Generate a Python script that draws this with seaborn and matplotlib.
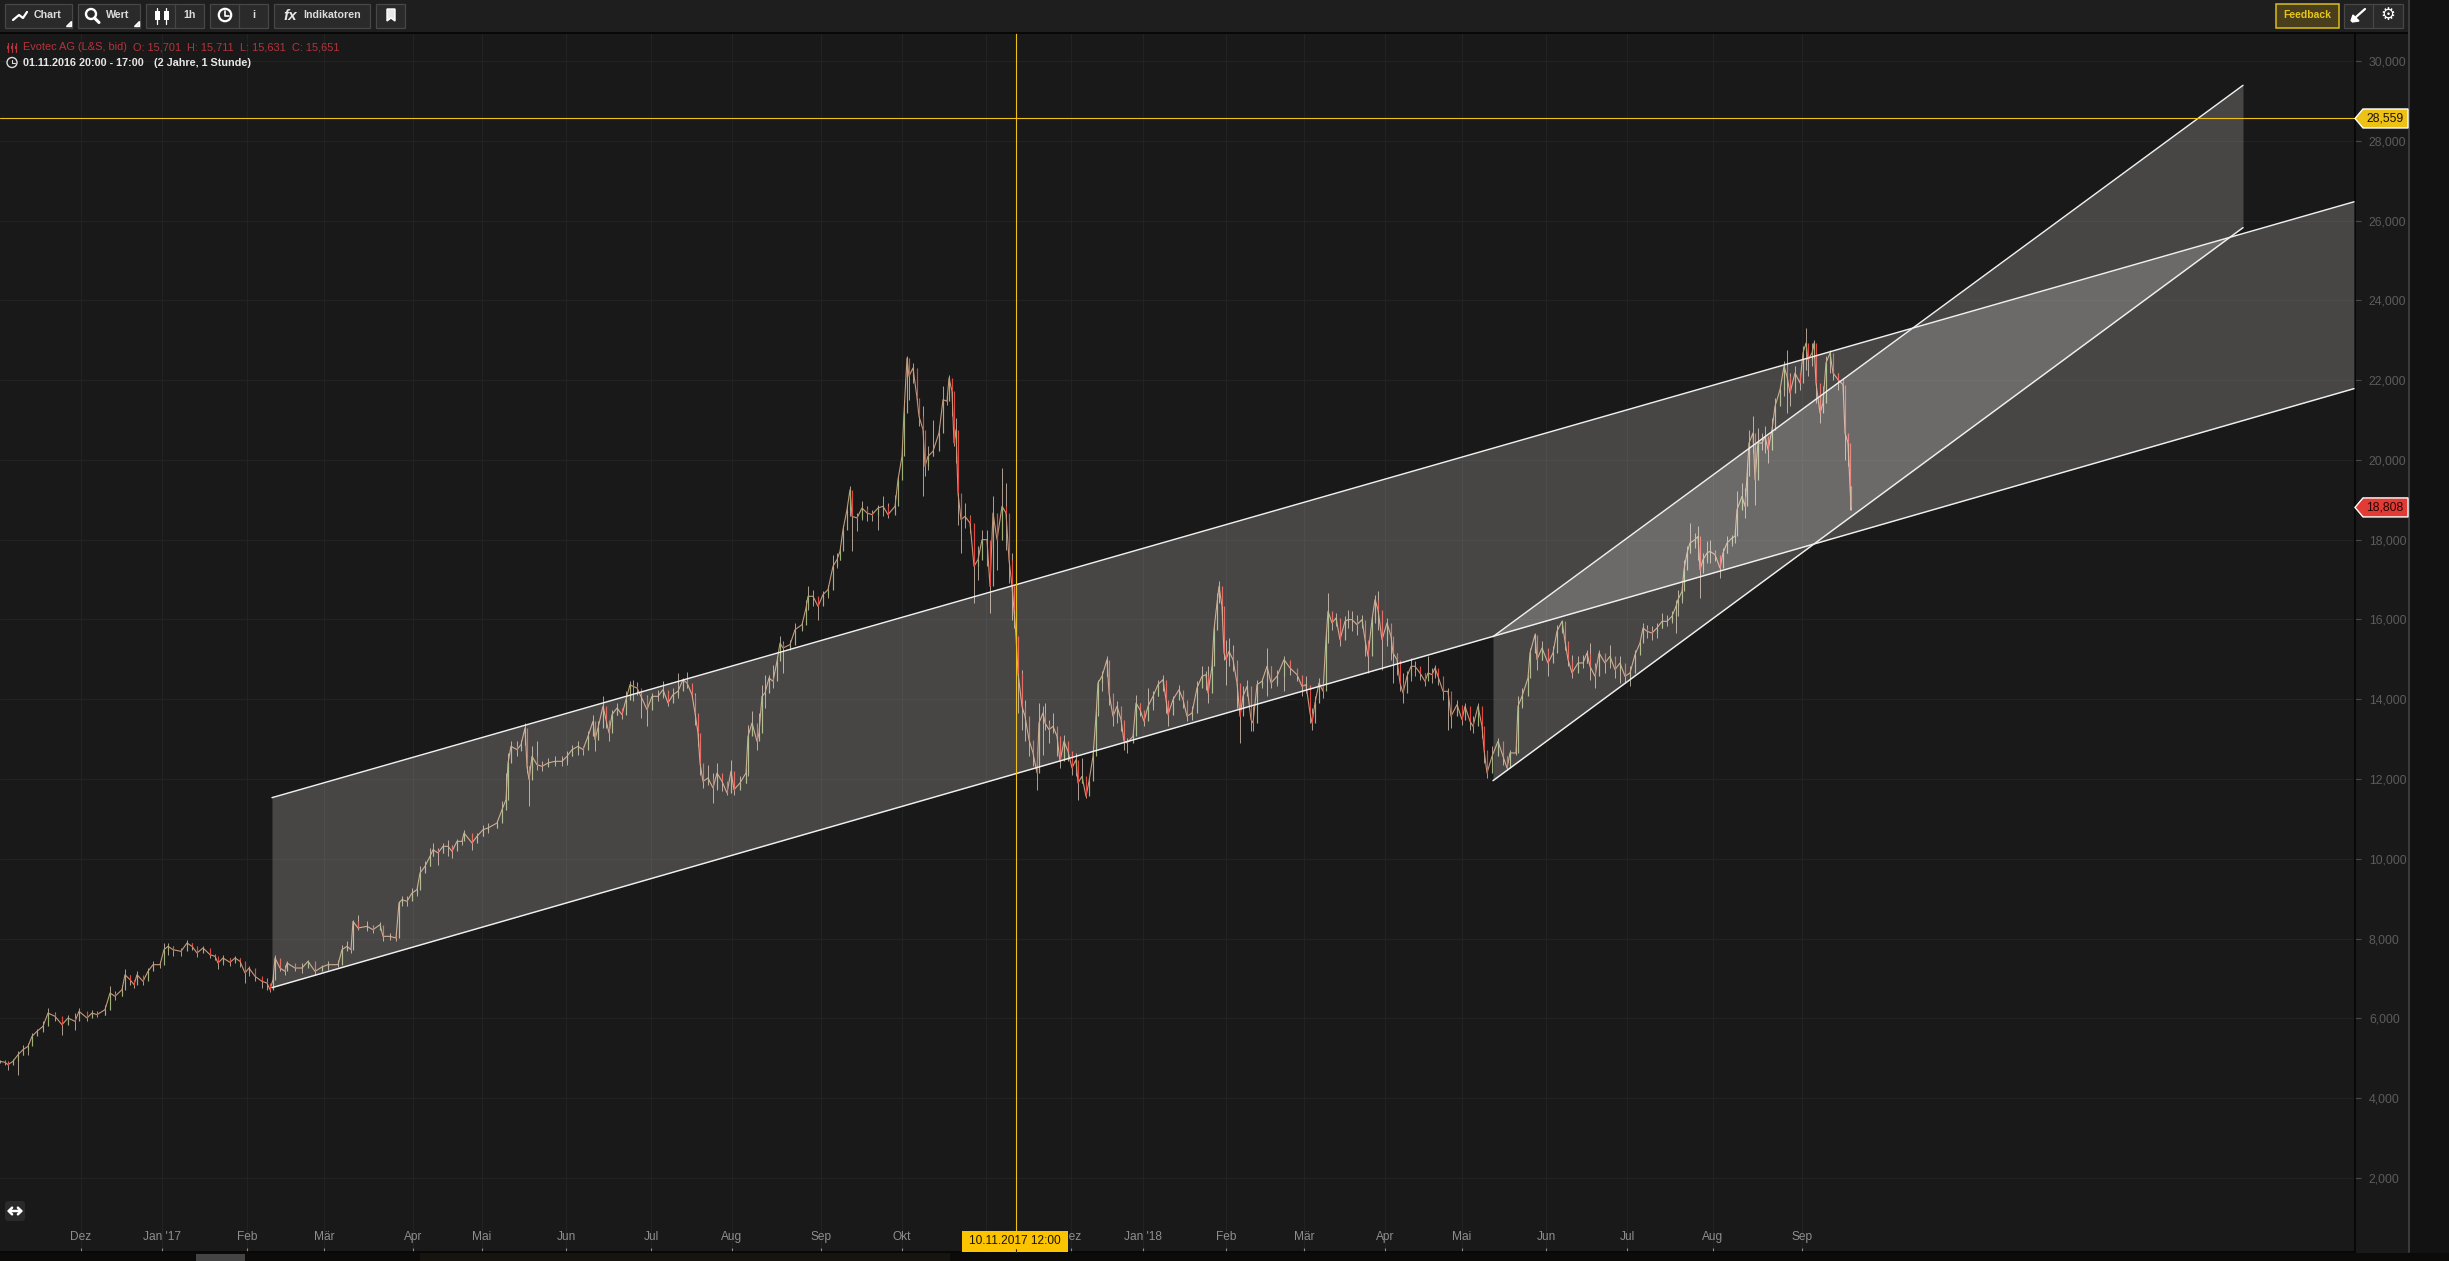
import numpy as np
import matplotlib.pyplot as plt
from matplotlib.patches import Rectangle, Polygon, Circle, FancyBboxPatch
from matplotlib.ticker import FuncFormatter
import seaborn as sns

# price bars (x = bar slot on the intraday axis)
bar_x = [0,5,8,13,18,23,28,32,37,43,48,55,62,68,75,79,87,92,97,105,110,115,122,125,130,134,137,143,148,153,160,164,168,173,181,187,192,197,203,210,215,218,223,230,235,240,245,249,255,262,267,270,273,275,280,285,287,295,302,308,315,322,328,338,342,347,351,353,358,367,373,380,383,390,396,399,
    402,407,412,417,420,425,430,433,438,443,448,452,457,462,464,472,477,483,488,497,502,506,508,511,517,521,525,527,529,532,537,542,548,555,562,567,
    572,578,583,588,593,595,598,603,606,609,612,617,622,626,630,633,637,641,647,652,658,663,668,673,678,683,687,692,695,698,700,703,708,713,717,722,727,731,734,740,746,748,752,757,759,762,765,769,773,777,780,783,790,795,802,806,
    808,813,818,823,828,833,837,840,843,847,850,852,857,862,867,872,878,883,888,895,898,902,904,907,909,913,917,919,923,925,928,933,939,943,947,949,952,954,956,958,961,965,970,974,978,982,987,990,993,997,1002,1006,1009,1012,
    1014,1016,1018,1022,1025,1029,1033,1037,1039,1043,1045,1049,1053,1057,1060,1064,1068,1072,1076,1078,1082,1086,1089,1093,1096,1098,1102,1107,1109,1113,1117,1121,1124,1127,1133,1136,1140,1144,1148,1153,1158,1163,1166,1168,1173,1179,1183,1187,1192,1197,1202,1206,1208,1212,1214,1217,1219,1222,1224,1226,1229,1233,1237,1240,1243,1247,1251,1253,1257,1262,1267,1271,1277,1284,1290,1297,1302,1306,1310,1312,1315,1319,1323,1326,1328,1332,1336,1340,1345,1348,
    1352,1357,1362,1365,1368,1372,1375,1378,1382,1387,1391,1393,1397,1400,1403,1407,1411,1415,1420,1425,1428,1432,1435,1438,1443,1448,1451,1457,1462,1465,1470,1473,1478,1482,1484,1487,1492,1498,1503,1507,1510,1516,1518,1522,1528,1530,1535,1537,1542,1548,1553,1557,1562,1565,1568,1572,1578,1583,1587,1590,1595,1599,1605,1610,1615,1620,1625,1630,1635,1640,1643,
    1647,1652,1657,1662,1667,1672,1676,1678,1682,1684,1687,1690,1695,1698,1700,1703,1707,1710,1715,1720,1723,1727,1732,1735,1737,1742,1745,1747,1749,1753,1755,1758,1762,1765,1768,1772,1775,1780,1784,1787,1790,1795,1800,1803,1806,1808,1812,1814,1816,1820,1823,1826,1830,1833,1838,1843,1845,1848,1850,1851]

bar_close = [4922,4896,4838,4922,5088,5214,5298,5548,5674,5799,6133,6050,5841,6008,5924,6175,6008,6133,6092,6217,6635,6551,6718,7094,6969,6844,7094,6927,7178,7345,7345,7721,7805,7721,7679,7888,7805,7638,7763,7596,7554,7387,7512,7403,7512,7429,7136,7261,7052,6927,6885,6718,6969,7512,7261,7178,7387,7261,7261,7429,7178,7287,7345,7345,7721,7805,7721,8431,8264,8306,8222,8348,8055,8055,8013,8891,
    8975,8933,9142,9225,9643,9810,10061,10228,10145,10312,10312,10186,10437,10437,10646,10395,10562,10730,10771,10897,11231,11482,12401,12819,12735,12861,13278,12317,11983,12568,12359,12317,12401,12443,12443,12568,
    12735,12819,12735,13070,13446,12986,13279,13822,13487,13153,13613,13780,13613,13989,14365,14323,14281,14072,13738,14072,14072,14240,13905,14114,14198,14490,14407,14114,13655,13153,12401,11941,12025,11774,12150,11941,11649,12192,11732,11900,12150,13070,13404,12944,13153,14072,14156,14532,14449,14950,15410,15284,15368,15744,15869,16287,
    16580,16580,16329,16622,16747,17332,17499,17708,18251,18752,19254,18585,18544,18794,18669,18627,18794,18836,18627,18836,19505,20090,21176,22555,22095,22304,21552,21092,20758,19839,20090,20215,20675,21510,21469,22054,21719,20424,20758,19170,18502,18585,18418,17332,17499,18000,18000,16830,18669,18000,18836,18669,17499,16830,
    16245,15577,14658,13822,13571,12986,12652,12151,13404,13655,13404,13237,13321,13070,12443,12945,12694,12276,12485,11900,12067,11566,11942,12568,13571,14407,14574,14992,14156,13571,13822,13488,12945,12903,13070,13905,13738,13446,13822,14073,14365,14491,13989,13613,13989,14240,13989,13571,13655,14282,14574,14616,14156,14825,15744,16413,16830,16329,15159,14992,15201,14992,14407,13571,14073,14323,13488,13404,14365,14449,14825,14407,14574,14992,14783,14616,14323,14365,13655,13404,13905,14407,14198,15493,16204,15911,16037,15493,15953,15995,
    15995,15869,15995,15493,15075,15995,16496,16245,15493,15911,15577,15159,14992,14407,14156,14574,14825,14825,14658,14449,14658,14616,14783,14574,14198,14198,13571,13864,13488,13822,13446,13321,13822,13321,12736,12151,12568,12945,12568,12276,12652,12652,13822,14073,14532,15159,15619,14992,15284,14908,15159,15702,15953,15452,14992,14658,14908,14908,15159,14825,14574,15159,14908,15075,14741,14908,14574,14658,15117,15410,15786,
    15702,15660,15786,15953,15953,16078,16329,16495,16704,17248,17665,17916,18000,18083,17248,17498,17665,17707,17624,17289,17665,17916,18041,18083,18752,19086,18835,19588,20423,20674,19504,20423,20423,20590,20256,20757,21342,21760,22345,22095,21677,22178,21927,22680,22930,22512,22680,22930,21927,21175,21426,22429,22680,22178,22011,21886,20674,20423,19337,18808]

bar_high = [4963,4963,4922,4980,5172,5339,5381,5632,5732,5924,6259,6150,5966,6092,6133,6259,6092,6217,6175,6342,6802,6677,6844,7236,7094,6969,7178,7011,7261,7429,7429,7888,7888,7821,7763,7972,7888,7763,7821,7721,7621,7512,7596,7512,7571,7512,7261,7320,7136,7011,7011,6844,7094,7596,7470,7345,7429,7345,7387,7470,7287,7345,7429,7470,7846,7930,7805,8473,8599,8431,8348,8406,8181,8139,8097,8933,
    9058,9058,9267,9351,9810,9936,10270,10395,10270,10395,10479,10353,10496,10496,10730,10562,10646,10855,10897,10980,11440,12150,12652,12944,12944,12986,13404,13069,12317,12819,12944,12443,12526,12568,12568,12693,
    12861,12944,12819,13195,13613,13362,13446,14072,13613,13404,13738,13905,13696,14198,14449,14490,14423,14240,14114,14156,14240,14449,14072,14281,14658,14532,14674,14323,14156,13404,12986,12234,12359,12150,12401,12109,11858,12485,12150,12067,12276,13362,13696,13195,13655,14365,14616,14616,14866,15075,15577,15451,15493,15911,15953,16496,
    16830,16747,16538,16705,16872,17624,17666,17833,18376,18878,19337,18962,18669,18962,18836,18752,18878,19087,18920,19129,19588,20299,21510,22597,22430,22430,21928,21385,21343,20716,20340,21009,20842,21845,21677,22137,21886,20925,21051,19922,18962,18920,18627,18084,17833,18251,18251,17666,19087,18585,19797,19421,17833,17666,
    16663,15828,15243,14741,13989,13237,12861,12485,13905,13822,13905,13488,13655,13237,12819,13112,12861,12568,12652,12151,12527,11816,12025,12819,13697,14491,14699,15075,14825,13905,13947,13613,13153,13028,13153,14114,13905,13697,14282,14198,14491,14616,14282,13780,14073,14365,14198,13738,13822,14449,14825,14699,14825,15075,15869,16663,16956,16663,15953,15493,15535,15368,14908,13989,14323,14491,13905,13822,14491,14532,15284,14825,14741,15075,14867,14741,14574,14574,13989,13780,14073,14532,14323,15702,16663,16162,16162,15702,16078,16245,
    16204,16120,16120,15702,15410,16120,16621,16705,15995,16037,15869,15368,15159,14908,14658,14699,15034,14950,14783,14658,15075,14783,14867,14699,14365,14282,13697,13989,13822,13905,13613,13571,13905,13780,13237,12568,12819,13028,12736,12568,12736,12819,14073,14282,14616,15284,15660,15410,15452,15243,15326,15869,15995,15744,15159,15117,15075,15117,15243,15410,14908,15243,15117,15368,14908,15075,14741,14825,15243,15493,15911,
    15869,15827,15911,16162,16120,16203,16496,16746,16830,17498,17833,18417,18167,18334,17749,17665,17958,17999,17749,17498,17791,18083,18125,18292,19211,19420,19295,19922,20757,21092,20089,20799,20674,20841,20507,21050,21551,21802,22471,22763,22178,22345,22136,22847,23306,22847,22930,23014,22512,21677,21844,22596,22763,22512,22178,22053,21760,20590,19922,19337]

bar_low = [4880,4838,4712,4863,4587,5088,5088,5381,5590,5649,5883,5924,5590,5924,5715,6050,5924,6050,6033,6092,6426,6467,6551,6885,6844,6760,6969,6844,7094,7220,7261,7470,7596,7554,7571,7763,7704,7537,7654,7512,7470,7236,7345,7320,7387,7286,6885,7052,6927,6760,6718,6651,6802,7261,7178,7094,7261,7178,7136,7320,7094,7178,7220,7287,7596,7679,7638,8055,8222,8181,8139,8264,7930,7972,7930,8055,
    8807,8807,9016,9058,9392,9685,9810,10061,9852,10145,10061,10019,10312,10353,10479,10228,10479,10562,10646,10771,11064,11356,12150,12484,12568,12693,13028,12150,11315,12192,12234,12192,12301,12317,12334,12359,
    12568,12610,12610,12861,13153,12694,13070,13446,13279,12944,13404,13613,13504,13780,14072,13947,14114,13529,13337,13822,13947,14031,13822,14031,14031,14323,14281,14031,13362,12819,12109,11774,11858,11398,11732,11691,11607,11941,11607,11816,11900,12067,13153,12735,12986,13780,13780,14365,14281,14616,15159,14658,15242,15577,15702,16078,
    16245,16329,15995,16413,16538,17081,17290,17499,17833,18418,18585,17708,18209,18502,18460,18460,18251,18585,18544,18752,19170,19839,20424,21845,21510,21928,21510,20842,19087,19588,19755,20090,20424,21343,21385,21761,21092,20340,19922,18376,17666,18293,18167,16413,16998,17750,17332,16162,16914,17248,18335,17750,16914,15995,
    15786,15284,13655,13237,12945,12568,12318,11733,12610,12610,13237,12903,13153,12568,12276,12694,12443,12109,12067,11482,11900,11524,11733,12401,13070,14031,14198,14574,13864,13321,13404,13195,12736,12652,12945,13571,13571,13321,13613,13738,14073,14198,13655,13321,13822,14114,13780,13446,13488,13947,14365,14240,13905,14699,15243,15869,16454,15995,14992,14365,14825,14699,13780,12903,13738,14156,13195,13195,14073,14282,14073,14282,14323,14198,14616,14449,14073,14156,13404,13237,13571,14073,14031,14407,15410,15744,15828,15326,15744,15786,
    15702,15619,15786,15075,14658,15410,15911,15744,14741,15326,14992,14407,14616,14198,13905,14198,14449,14574,14491,14323,14491,14407,14532,14365,13989,13237,13279,13655,13362,13613,13237,13153,13488,13028,12401,12025,12276,12694,12360,12234,12568,12610,13571,13780,14365,14908,15243,14741,14992,14574,14992,15493,15660,15243,14825,14532,14741,14783,14908,14491,14282,14825,14658,14783,14532,14407,14407,14323,14867,15201,15577,
    15535,15493,15535,15786,15827,15911,15660,16078,16412,16997,17331,17665,17791,17498,16537,17164,17415,17415,17456,17039,17415,17665,17833,17916,18417,18835,18543,19253,19838,20172,18877,19838,20256,20172,19922,20465,21175,21426,21593,21175,21342,21760,21760,22095,22262,22095,22345,22554,21426,20925,21259,21677,22178,22011,21760,21635,20005,19838,18752,18752]

# drawn channels (start and end of each border line)
channel_x = [272, 2354]
channel_upper = [11532, 26470]
channel_lower = [6769, 21786]
wedge_x = [1493, 2243]
wedge_upper = [15568, 29390]
wedge_lower = [11958, 25822]

# the November label sits hidden behind the date tag in the reference
month_ticks = [81,162,247,324,413,482,566,651,732,821,902,986,1071,1143,1226,1304,1385,1462,1546,1627,1713,1802]
month_labels = ['Dez',"Jan '17",'Feb','Mär','Apr','Mai','Jun','Jul','Aug','Sep','Okt','','Dez',"Jan '18",'Feb','Mär','Apr','Mai','Jun','Jul','Aug','Sep']
price_ticks = list(range(2000, 30001, 2000))

crosshair_x = 1015.5
crosshair_price = 28559
last_price = 18808

BG = '#1a1919'
GOLD = '#eec116'
RED_TXT = '#b5343c'

sns.set_theme(style='dark', rc={'axes.facecolor': BG, 'figure.facecolor': '#121212'})
plt.rcParams['font.family'] = ['Liberation Sans', 'DejaVu Sans']

W, H = 2449, 1261
fig = plt.figure(figsize=(W / 100, H / 100), dpi=100)
fig.add_artist(Rectangle((0, 0), 2409 / W, 1, fc=BG, ec='none', transform=fig.transFigure, zorder=-5))
ax = fig.add_axes([0, (H - 1252) / H, 2355 / W, (1252 - 33) / H])


def to_price(y):
    return 30000 - (y - 61) * 25.07


# candles
bar_x = np.array(bar_x)
bar_close = np.array(bar_close)
bar_high = np.array(bar_high)
bar_low = np.array(bar_low)
prev_close = np.r_[bar_close[0], bar_close[:-1]]
up = bar_close >= prev_close

ax.vlines(bar_x, bar_low, bar_high, color='#ad9f92', lw=0.7, zorder=2)
sns.lineplot(x=bar_x, y=bar_close, color='#c49a7c', lw=0.8, sort=False, estimator=None, ax=ax, zorder=2)
ax.vlines(bar_x[up], prev_close[up], bar_close[up], color='#9cb078', lw=0.85, zorder=3)
ax.vlines(bar_x[~up], prev_close[~up], bar_close[~up], color='#e0483f', lw=0.85, zorder=3)

# channels on top of the price
ax.fill_between(channel_x, channel_lower, channel_upper, color='#fffdfa', alpha=0.2, lw=0, zorder=4)
ax.fill_between(wedge_x, wedge_lower, wedge_upper, color='#fffdfa', alpha=0.2, lw=0, zorder=4)
for xs, ys in [(channel_x, channel_upper), (channel_x, channel_lower), (wedge_x, wedge_upper), (wedge_x, wedge_lower)]:
    ax.plot(xs, ys, color='#f0f0f0', lw=1.05, zorder=5)

# crosshair
ax.axvline(crosshair_x, color=GOLD, lw=0.8, zorder=6)
ax.axhline(crosshair_price, color=GOLD, lw=0.8, zorder=6)

ax.set_xlim(0, 2355)
ax.set_ylim(to_price(1252), to_price(33))
ax.set_xticks(month_ticks, month_labels)
ax.set_yticks(price_ticks)
ax.yaxis.set_major_formatter(FuncFormatter(lambda v, p: f'{int(v):,}'))
ax.yaxis.tick_right()
ax.grid(True, color='#232222', lw=0.8, zorder=0)
ax.set_axisbelow(True)
ax.tick_params(axis='x', direction='in', length=3, width=0.8, color='#8a8a8a', pad=-15, labelsize=8.6, labelcolor='#8e8e8e', bottom=True)
ax.tick_params(axis='y', direction='out', length=4, width=0.8, color='#4a4a4a', pad=6, labelsize=8.8, labelcolor='#5c5c5c', right=True)
for side in ['top', 'left']:
    ax.spines[side].set_visible(False)
ax.spines['right'].set_color('#050505')
ax.spines['right'].set_linewidth(1.2)
ax.spines['bottom'].set_color('#050505')
ax.spines['bottom'].set_linewidth(1.2)

# screen furniture around the chart, in pixel coordinates
ui = fig.add_axes([0, 0, 1, 1], zorder=10)
ui.set_xlim(0, W)
ui.set_ylim(H, 0)
ui.axis('off')
ui.patch.set_alpha(0)


def rect(x0, y0, x1, y1, fc, ec='none', lw=0, z=1):
    ui.add_patch(Rectangle((x0, y0), x1 - x0, y1 - y0, fc=fc, ec=ec, lw=lw, zorder=z))


def label(x, y, s, color='#dcdcdc', size=7.7, weight='normal', ha='left', **kw):
    ui.text(x, y, s, color=color, fontsize=size, fontweight=weight, ha=ha, va='center', zorder=6, **kw)


rect(0, 0, 2409, 33, '#1f1e1e')
ui.plot([0, 2409], [33, 33], color='#040404', lw=1.2, zorder=2)
rect(2409, 0, W, H, '#121212')
ui.plot([2409, 2409], [0, 1252], color='#3c3c3c', lw=1.4, zorder=2)
rect(0, 1253, W, H, '#0c0b0a')
rect(420, 1253, 950, H, '#17130e')
rect(196, 1254, 245, H, '#444444')

BTN = '#2b2a2a'
EDGE = '#474747'
for x0, x1 in [(5, 72), (78, 140), (146, 204), (210, 268), (274, 370), (376, 405), (2344, 2403)]:
    rect(x0, 4, x1, 27.5, BTN, EDGE, 0.9, 2)
for x in [175, 239, 2373]:
    ui.plot([x, x], [4, 27.5], color=EDGE, lw=0.9, zorder=3)
rect(2276, 4, 2339, 27.5, '#4a3f1d', '#dcbd1c', 1.1, 2)

label(34, 15, 'Chart', weight='bold')
label(106, 15, 'Wert', weight='bold')
label(190, 15, '1h', weight='bold', ha='center')
label(254, 15, 'i', weight='bold', ha='center')
label(303, 15, 'Indikatoren', weight='bold')
label(290, 15.5, 'fx', color='#e8e8e8', size=11, weight='bold', ha='center', style='italic')
label(2307.5, 15, 'Feedback', color='#e6c619', size=7.5, weight='bold', ha='center')
label(2388, 15, '\u2699', color='white', size=12, ha='center')

# toolbar icons
ui.plot([13, 19, 23, 27], [20, 15, 18, 12], color='white', lw=1.6, zorder=6)
for tx in [72, 140]:
    ui.add_patch(Polygon([(tx - 1, 21), (tx - 1, 26), (tx - 6, 26)], fc='#dddddd', zorder=6))
ui.add_patch(Circle((91, 14), 5, fc='none', ec='white', lw=1.7, zorder=6))
ui.plot([94.5, 99], [18, 22.5], color='white', lw=2.2, zorder=6)
for cx in [157, 166]:
    ui.plot([cx, cx], [8, 24], color='white', lw=0.9, zorder=6)
    rect(cx - 2.5, 11, cx + 2.5, 20, 'white', z=6)
ui.add_patch(Circle((225, 15), 6.2, fc='none', ec='white', lw=1.6, zorder=6))
ui.plot([225, 225, 229], [11, 15.5, 15.5], color='white', lw=1.2, zorder=6)
ui.add_patch(Polygon([(387, 9), (395, 9), (395, 21), (391, 18), (387, 21)], fc='#e8e8e8', zorder=6))
ui.add_patch(Polygon([(2353, 15), (2359, 21), (2352, 22), (2354, 20), (2351, 21)], fc='white', zorder=6))
ui.plot([2356, 2365], [17, 9], color='white', lw=1.6, zorder=6)

# header lines
for x, s in [(23, 'Evotec AG (L&S, bid)'), (133, 'O: 15,701'), (187, 'H: 15,711'), (240, 'L: 15,631'), (292, 'C: 15,651')]:
    label(x, 47.5, s, color=RED_TXT, size=7.9)
for ix in [8, 12, 16]:
    ui.plot([ix, ix], [43, 52], color=RED_TXT, lw=0.9, zorder=6)
    rect(ix - 1.2, 46, ix + 1.2, 49, RED_TXT, z=6)
label(23, 63, '01.11.2016 20:00 - 17:00', color='#e6e6e6', size=7.8, weight='bold')
label(154, 63, '(2 Jahre, 1 Stunde)', color='#e6e6e6', size=7.8, weight='bold')
ui.add_patch(Circle((12, 62.5), 5, fc='none', ec='#dddddd', lw=1.0, zorder=6))
ui.plot([12, 12, 15], [59.5, 63, 63], color='#dddddd', lw=0.8, zorder=6)

# price tags on the axis
y_gold = 61 + (30000 - crosshair_price) / 25.07
y_red = 61 + (30000 - last_price) / 25.07
for yy, col, txt, tc in [(y_gold, GOLD, f'{crosshair_price:,}', '#1a1400'), (y_red, '#e23b35', f'{last_price:,}', '#2a0604')]:
    ui.add_patch(Polygon([(2355, yy), (2363, yy - 9.5), (2408, yy - 9.5), (2408, yy + 9.5), (2363, yy + 9.5)], fc=col, zorder=5))
    label(2385, yy + 0.3, txt, color=tc, size=8.8, ha='center')

# date tag under the crosshair
rect(962, 1231, 1068, 1252, '#fcc400', z=5)
label(1015, 1241.5, '10.11.2017 12:00', color='#1a1400', size=8.6, ha='center')
ui.plot([crosshair_x, crosshair_x], [1249, 1252], color='#3a2e00', lw=0.8, zorder=6)

# scale toggle, bottom left
ui.add_patch(FancyBboxPatch((5, 1201), 20, 20, boxstyle='round,pad=0,rounding_size=3', fc='#2b2a2a', ec='none', zorder=3))
ui.annotate('', xy=(7, 1211), xytext=(23, 1211), zorder=6,
            arrowprops=dict(arrowstyle='<->,head_width=0.2,head_length=0.2', color='white', lw=1.8, shrinkA=0, shrinkB=0))

fig.savefig('out.png', dpi=100, facecolor=fig.get_facecolor())
